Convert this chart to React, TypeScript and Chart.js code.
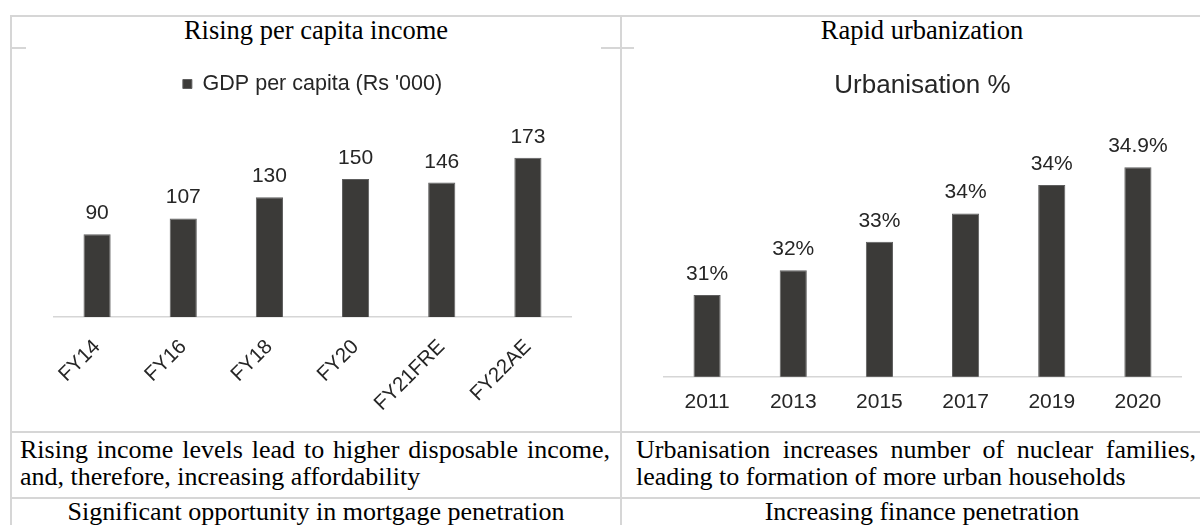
import React, { useEffect, useRef } from "react";
import { Chart, registerables } from "chart.js";

Chart.register(...registerables);

// ---- data ----
const gdpCategories = ["FY14", "FY16", "FY18", "FY20", "FY21FRE", "FY22AE"];
const gdpValues = [90, 107, 130, 150, 146, 173];
const gdpLabels = gdpValues.map((v) => String(v));

const urbanCategories = ["2011", "2013", "2015", "2017", "2019", "2020"];
const urbanValues = [31.3, 32.0, 32.8, 33.6, 34.4, 34.9];
const urbanLabels = ["31%", "32%", "33%", "34%", "34%", "34.9%"];

const BAR = "#3b3a38";
const TEXT = "#262626";
const LINE = "#d6d6d6";
const SANS = "'Liberation Sans', Arial, sans-serif";
const SERIF = "'Liberation Serif', 'Times New Roman', serif";

function barLabelPlugin(labels: string[]) {
  return {
    id: "barLabels",
    afterDatasetsDraw(chart: any) {
      const ctx = chart.ctx;
      const meta = chart.getDatasetMeta(0);
      ctx.save();
      ctx.font = `21px ${SANS}`;
      ctx.fillStyle = TEXT;
      ctx.textAlign = "center";
      ctx.textBaseline = "alphabetic";
      meta.data.forEach((bar: any, i: number) => {
        ctx.fillText(labels[i], bar.x, bar.y - 15);
      });
      ctx.restore();
    },
  };
}

function GdpChart() {
  const ref = useRef<HTMLCanvasElement>(null);
  useEffect(() => {
    const chart = new Chart(ref.current as HTMLCanvasElement, {
      type: "bar",
      data: {
        labels: gdpCategories,
        datasets: [
          {
            label: "GDP per capita (Rs '000)",
            data: gdpValues,
            backgroundColor: BAR,
            borderColor: "#5e5e5e",
            borderWidth: 1,
            barPercentage: 0.315,
            categoryPercentage: 1,
          },
        ],
      },
      options: {
        responsive: false,
        animation: false,
        layout: { padding: { left: 28, right: 30, top: 17.25, bottom: 0 } },
        plugins: {
          legend: {
            display: true,
            position: "top",
            labels: {
              boxWidth: 9,
              boxHeight: 9,
              padding: 10,
              color: TEXT,
              font: { size: 21.5, family: SANS },
            },
          },
          tooltip: { enabled: false },
        },
        scales: {
          x: {
            grid: { display: false, drawTicks: false },
            border: { color: LINE, width: 1.5 },
            ticks: {
              minRotation: 45,
              maxRotation: 45,
              autoSkip: false,
              color: TEXT,
              padding: 18,
              font: { size: 20.5, family: SANS },
            },
            afterFit: (s: any) => {
              s.height = 113;
            },
          },
          y: { display: false, min: 0, max: 230.5 },
        },
      },
      plugins: [barLabelPlugin(gdpLabels)],
    } as any);
    return () => chart.destroy();
  }, []);
  return (
    <canvas
      ref={ref}
      width={575}
      height={384}
      style={{ position: "absolute", left: 26, top: 46, background: "#fff" }}
    />
  );
}

function UrbanChart() {
  const ref = useRef<HTMLCanvasElement>(null);
  useEffect(() => {
    const chart = new Chart(ref.current as HTMLCanvasElement, {
      type: "bar",
      data: {
        labels: urbanCategories,
        datasets: [
          {
            label: "Urbanisation %",
            data: urbanValues,
            backgroundColor: BAR,
            borderColor: "#5e5e5e",
            borderWidth: 1,
            barPercentage: 0.315,
            categoryPercentage: 1,
          },
        ],
      },
      options: {
        responsive: false,
        animation: false,
        layout: { padding: { left: 30, right: 30, top: 14.4, bottom: 0 } },
        plugins: {
          legend: { display: false },
          title: {
            display: true,
            text: "Urbanisation %",
            color: TEXT,
            font: { size: 26, family: SANS, weight: "normal" },
            padding: { top: 10, bottom: 10 },
          },
          tooltip: { enabled: false },
        },
        scales: {
          x: {
            grid: { display: false, drawTicks: false },
            border: { color: LINE, width: 1.5 },
            ticks: {
              maxRotation: 0,
              minRotation: 0,
              autoSkip: false,
              color: TEXT,
              padding: 13,
              font: { size: 21, family: SANS },
            },
            afterFit: (s: any) => {
              s.height = 53.3;
            },
          },
          y: { display: false, min: 29, max: 36.47 },
        },
      },
      plugins: [barLabelPlugin(urbanLabels)],
    } as any);
    return () => chart.destroy();
  }, []);
  return (
    <canvas
      ref={ref}
      width={577}
      height={384}
      style={{ position: "absolute", left: 634, top: 46, background: "#fff" }}
    />
  );
}

const hLine = (top: number) => (
  <div style={{ position: "absolute", left: 10, top, width: 1220, height: 2, background: LINE }} />
);
const vLine = (left: number) => (
  <div style={{ position: "absolute", left, top: 15, width: 2, height: 520, background: LINE }} />
);

const serif: React.CSSProperties = {
  position: "absolute",
  fontFamily: SERIF,
  fontSize: 26,
  lineHeight: "27px",
  color: "#000",
  whiteSpace: "nowrap",
};

const justified: React.CSSProperties = {
  textAlign: "justify",
  textAlignLast: "justify",
  whiteSpace: "normal",
};

export default function App() {
  return (
    <div
      style={{
        position: "absolute",
        left: 0,
        top: 0,
        width: 1200,
        height: 525,
        overflow: "hidden",
        background: "#fff",
      }}
    >
      {hLine(15)}
      {hLine(47)}
      {hLine(431)}
      {hLine(497)}
      {vLine(10)}
      {vLine(620)}

      <div style={{ ...serif, fontSize: 26.5, left: 12, width: 608, top: 17, textAlign: "center" }}>
        Rising per capita income
      </div>
      <div style={{ ...serif, fontSize: 26.5, left: 622, width: 600, top: 17, textAlign: "center" }}>
        Rapid urbanization
      </div>

      <GdpChart />
      <UrbanChart />

      <div style={{ ...serif, left: 20, width: 590, top: 436 }}>
        <div style={justified}>Rising income levels lead to higher disposable income,</div>
        <div>and, therefore, increasing affordability</div>
      </div>
      <div style={{ ...serif, left: 636, width: 560, top: 436 }}>
        <div style={justified}>Urbanisation increases number of nuclear families,</div>
        <div>leading to formation of more urban households</div>
      </div>

      <div style={{ ...serif, left: 12, width: 608, top: 498, textAlign: "center" }}>
        Significant opportunity in mortgage penetration
      </div>
      <div style={{ ...serif, left: 622, width: 600, top: 498, textAlign: "center" }}>
        Increasing finance penetration
      </div>
    </div>
  );
}
